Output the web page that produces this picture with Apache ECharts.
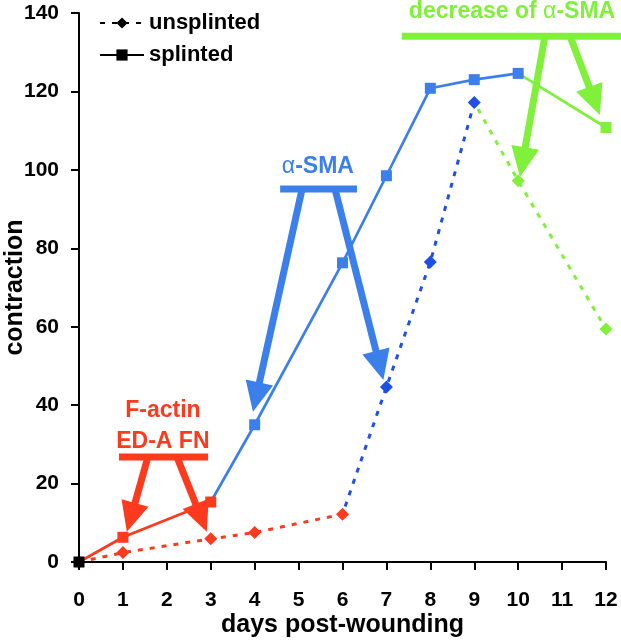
<!DOCTYPE html>
<html><head><meta charset="utf-8">
<script src="https://cdn.jsdelivr.net/npm/echarts@6/dist/echarts.min.js"></script>
<style>html,body{margin:0;padding:0;background:#fff}#c{width:621px;height:640px}</style>
</head><body><div id="c"></div><script>
// ---- data ----
const days = [0, 1, 3, 4, 6, 7, 8, 9, 10, 12];
const unsplinted = [0, 2.4, 5.9, 7.5, 12.2, 44.6, 76.5, 117.2, 97.2, 59.4];
const splinted = [0, 6.3, 15.3, 35.0, 76.3, 98.5, 120.8, 123.0, 124.6, 110.8];
const seriesNames = ['unsplinted', 'splinted'];
// day at which each phase (F-actin / alpha-SMA / decrease) ends
const unsplintedPhaseEnds = [6, 9];
const splintedPhaseEnds = [3, 10];

// ---- annotations (data coordinates) ----
const annTexts = [
  [1.91, 38.7, 'F-actin', 0],
  [1.91, 30.6, 'ED-A FN', 0],
  [5.44, 100.7, '{a|α}-SMA', 1],
  [9.86, 140.3, 'decrease of {a|α}-SMA', 2]
];
const annBars = [
  [0.91, 26.8, 2.94, 0],
  [4.58, 95.1, 6.33, 1],
  [7.35, 134.1, 12.34, 2]
];
const annArrows = [
  [1.57, 26.8, 1.09, 7.7, 0],
  [2.23, 26.8, 2.91, 7.7, 0],
  [5.08, 95.1, 3.96, 38.3, 1],
  [5.83, 95.1, 6.93, 46.4, 1],
  [10.61, 134.1, 10.04, 98.2, 2],
  [11.18, 134.1, 11.86, 114.0, 2]
];

// ---- styles ----
const RED = '#fb3a1e', BLUE = '#3b80ea', DBLUE = '#1f50e6', GREEN = '#80f03a';
const annColors = [RED, BLUE, GREEN];
const FONT = '"Liberation Sans", Arial, Helvetica, sans-serif';

const chart = echarts.init(document.getElementById('c'), null, {renderer: 'canvas'});

function phasePieces(ends, mid) {
  return [
    {lte: 0, color: '#000'},
    {gt: 0, lte: ends[0], color: RED},
    {gt: ends[0], lte: ends[1], color: mid},
    {gt: ends[1], color: GREEN}
  ];
}

const option = {
  animation: false,
  backgroundColor: '#fff',
  grid: {left: 79, right: 15, top: 13, bottom: 78, containLabel: false, outerBoundsMode: 'none'},
  legend: {
    orient: 'vertical', left: 99, top: 12, padding: 0,
    itemWidth: 44, itemHeight: 14, itemGap: 10,
    selectedMode: false,
    data: seriesNames,
    itemStyle: {color: '#000'},
    lineStyle: {color: '#000'},
    textStyle: {fontSize: 22, fontWeight: 'bold', color: '#000', fontFamily: FONT, lineHeight: 22}
  },
  visualMap: [
    {show: false, type: 'piecewise', seriesIndex: 0, dimension: 0, pieces: phasePieces(unsplintedPhaseEnds, DBLUE)},
    {show: false, type: 'piecewise', seriesIndex: 1, dimension: 0, pieces: phasePieces(splintedPhaseEnds, BLUE)}
  ],
  xAxis: {
    type: 'value', min: 0, max: 12, interval: 1,
    name: 'days post-wounding', nameLocation: 'middle', nameGap: 51, nameMoveOverlap: false,
    nameTextStyle: {fontSize: 25, fontWeight: 'bold', color: '#000', fontFamily: FONT},
    axisLine: {onZero: false, lineStyle: {color: '#000', width: 2}},
    axisTick: {length: 8, lineStyle: {color: '#000', width: 2}},
    axisLabel: {fontSize: 21, fontWeight: 'bold', color: '#000', fontFamily: FONT, margin: 28},
    splitLine: {show: false}
  },
  yAxis: {
    type: 'value', min: 0, max: 140, interval: 20,
    name: 'contraction', nameLocation: 'middle', nameGap: 51, nameMoveOverlap: false,
    nameTextStyle: {fontSize: 25, fontWeight: 'bold', color: '#000', fontFamily: FONT},
    axisLine: {show: true, lineStyle: {color: '#000', width: 2}},
    axisTick: {show: true, length: 8, lineStyle: {color: '#000', width: 2}},
    axisLabel: {fontSize: 21, fontWeight: 'bold', color: '#000', fontFamily: FONT, margin: 20},
    splitLine: {show: false}
  },
  series: [
    {
      name: seriesNames[0], type: 'line', z: 3,
      data: days.map((d, i) => [d, unsplinted[i]]),
      symbol: 'diamond', symbolSize: 13, showAllSymbol: true,
      lineStyle: {width: 3, type: [5, 7]}
    },
    {
      name: seriesNames[1], type: 'line', z: 4,
      data: days.map((d, i) => [d, splinted[i]]),
      symbol: 'rect', symbolSize: 11, showAllSymbol: true,
      lineStyle: {width: 2.7}
    },
    {
      type: 'custom', z: 5, silent: true, clip: false,
      data: annBars.map(b => [b[0], b[1], b[2]]),
      encode: {x: [0, 2], y: 1},
      renderItem: function (params, api) {
        const b = annBars[params.dataIndex];
        const p1 = api.coord([b[0], b[1]]);
        const p2 = api.coord([b[2], b[1]]);
        return {type: 'line', shape: {x1: p1[0], y1: p1[1], x2: p2[0], y2: p2[1]},
          style: {stroke: annColors[b[3]], lineWidth: 7}};
      }
    },
    {
      type: 'custom', z: 6, silent: true, clip: false,
      data: annArrows.map(a => [a[0], a[1], a[2], a[3]]),
      encode: {x: [0, 2], y: [1, 3]},
      renderItem: function (params, api) {
        const a = annArrows[params.dataIndex];
        const c = annColors[a[4]];
        const p0 = api.coord([a[0], a[1]]);
        const p1 = api.coord([a[2], a[3]]);
        const dx = p1[0] - p0[0], dy = p1[1] - p0[1];
        const len = Math.sqrt(dx * dx + dy * dy);
        const ux = dx / len, uy = dy / len;
        const L = 30, W = 14;
        const bx = p1[0] - ux * L, by = p1[1] - uy * L;
        const nx = -uy, ny = ux;
        return {type: 'group', children: [
          {type: 'line', shape: {x1: p0[0], y1: p0[1], x2: bx + ux * 3, y2: by + uy * 3},
            style: {stroke: c, lineWidth: 7}},
          {type: 'polygon', shape: {points: [[p1[0], p1[1]], [bx + nx * W, by + ny * W], [bx - nx * W, by - ny * W]]},
            style: {fill: c}}
        ]};
      }
    },
    {
      type: 'custom', z: 7, silent: true, clip: false,
      data: annTexts.map(t => [t[0], t[1]]),
      encode: {x: 0, y: 1},
      renderItem: function (params, api) {
        const t = annTexts[params.dataIndex];
        const p = api.coord([t[0], t[1]]);
        const c = annColors[t[3]];
        return {type: 'text', x: p[0], y: p[1],
          style: {text: t[2], fill: c, fontSize: 23, fontWeight: 'bold', fontFamily: FONT,
            align: 'center', verticalAlign: 'middle',
            rich: {a: {fill: c, fontSize: 23, fontWeight: 'normal', fontFamily: FONT}}}};
      }
    }
  ]
};
chart.setOption(option);
</script></body></html>
